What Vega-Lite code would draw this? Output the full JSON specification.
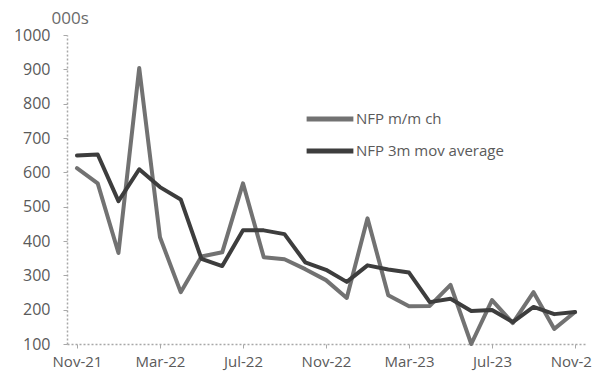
{
  "$schema": "https://vega.github.io/schema/vega-lite/v6.json",
  "width": 518,
  "height": 309,
  "autosize": {"type": "none"},
  "padding": {"left": 67, "top": 35, "right": 7, "bottom": 31},
  "background": "white",
  "config": {
    "view": {"stroke": null},
    "font": "Open Sans",
    "axis": {
      "labelFont": "Open Sans",
      "labelColor": "#5a5a5a",
      "labelFontSize": 15,
      "domainColor": "#a8a8a8",
      "domainDash": [2, 2],
      "domainWidth": 1.5,
      "tickColor": "#a8a8a8",
      "tickSize": 4,
      "grid": false
    }
  },
  "data": {
    "values": [
      {"month": "Nov-21", "mm": 612, "avg": 649},
      {"month": "Dec-21", "mm": 568, "avg": 652},
      {"month": "Jan-22", "mm": 365, "avg": 516},
      {"month": "Feb-22", "mm": 904, "avg": 609},
      {"month": "Mar-22", "mm": 411, "avg": 557},
      {"month": "Apr-22", "mm": 251, "avg": 521},
      {"month": "May-22", "mm": 355, "avg": 348},
      {"month": "Jun-22", "mm": 367, "avg": 327},
      {"month": "Jul-22", "mm": 568, "avg": 431},
      {"month": "Aug-22", "mm": 353, "avg": 431},
      {"month": "Sep-22", "mm": 347, "avg": 420},
      {"month": "Oct-22", "mm": 318, "avg": 338},
      {"month": "Nov-22", "mm": 286, "avg": 316},
      {"month": "Dec-22", "mm": 234, "avg": 281},
      {"month": "Jan-23", "mm": 466, "avg": 329},
      {"month": "Feb-23", "mm": 242, "avg": 317},
      {"month": "Mar-23", "mm": 210, "avg": 308},
      {"month": "Apr-23", "mm": 211, "avg": 222},
      {"month": "May-23", "mm": 272, "avg": 232},
      {"month": "Jun-23", "mm": 100, "avg": 196},
      {"month": "Jul-23", "mm": 228, "avg": 199},
      {"month": "Aug-23", "mm": 161, "avg": 164},
      {"month": "Sep-23", "mm": 251, "avg": 208},
      {"month": "Oct-23", "mm": 144, "avg": 187},
      {"month": "Nov-23", "mm": 193, "avg": 193}
    ]
  },
  "transform": [
    {"fold": ["mm", "avg"], "as": ["series", "value"]},
    {"calculate": "datum.series === 'mm' ? 'NFP m/m ch' : 'NFP 3m mov average'", "as": "label"}
  ],
  "mark": {"type": "line", "strokeWidth": 4, "strokeJoin": "round", "strokeCap": "round"},
  "encoding": {
    "x": {
      "field": "month",
      "type": "ordinal",
      "sort": null,
      "scale": {"type": "point", "padding": 0.48},
      "axis": {
        "title": null,
        "labelAngle": 0,
        "labelPadding": 6,
        "values": ["Nov-21", "Mar-22", "Jul-22", "Nov-22", "Mar-23", "Jul-23", "Nov-23"]
      }
    },
    "y": {
      "field": "value",
      "type": "quantitative",
      "scale": {"domain": [100, 1000], "nice": false, "zero": false},
      "axis": {
        "values": [100, 200, 300, 400, 500, 600, 700, 800, 900, 1000],
        "format": "d",
        "labelFontSize": 16,
        "labelPadding": 13,
        "title": "000s",
        "titleAngle": 0,
        "titleFont": "Open Sans",
        "titleFontWeight": "normal",
        "titleFontSize": 17,
        "titleColor": "#6a6a6a",
        "titleAlign": "left",
        "titleBaseline": "bottom",
        "titleX": -16,
        "titleY": -8
      }
    },
    "color": {
      "field": "label",
      "type": "nominal",
      "sort": ["NFP m/m ch", "NFP 3m mov average"],
      "scale": {"domain": ["NFP m/m ch", "NFP 3m mov average"], "range": ["#727272", "#3d3d3d"]},
      "legend": {
        "title": null,
        "orient": "none",
        "legendX": 251,
        "legendY": 72,
        "padding": 0,
        "symbolType": "M-2.5,0H2.5",
        "symbolSize": 350,
        "symbolStrokeWidth": 5,
        "labelFont": "Open Sans",
        "labelFontSize": 15,
        "labelColor": "#5a5a5a",
        "labelOffset": 14,
        "rowPadding": 10
      }
    }
  }
}
